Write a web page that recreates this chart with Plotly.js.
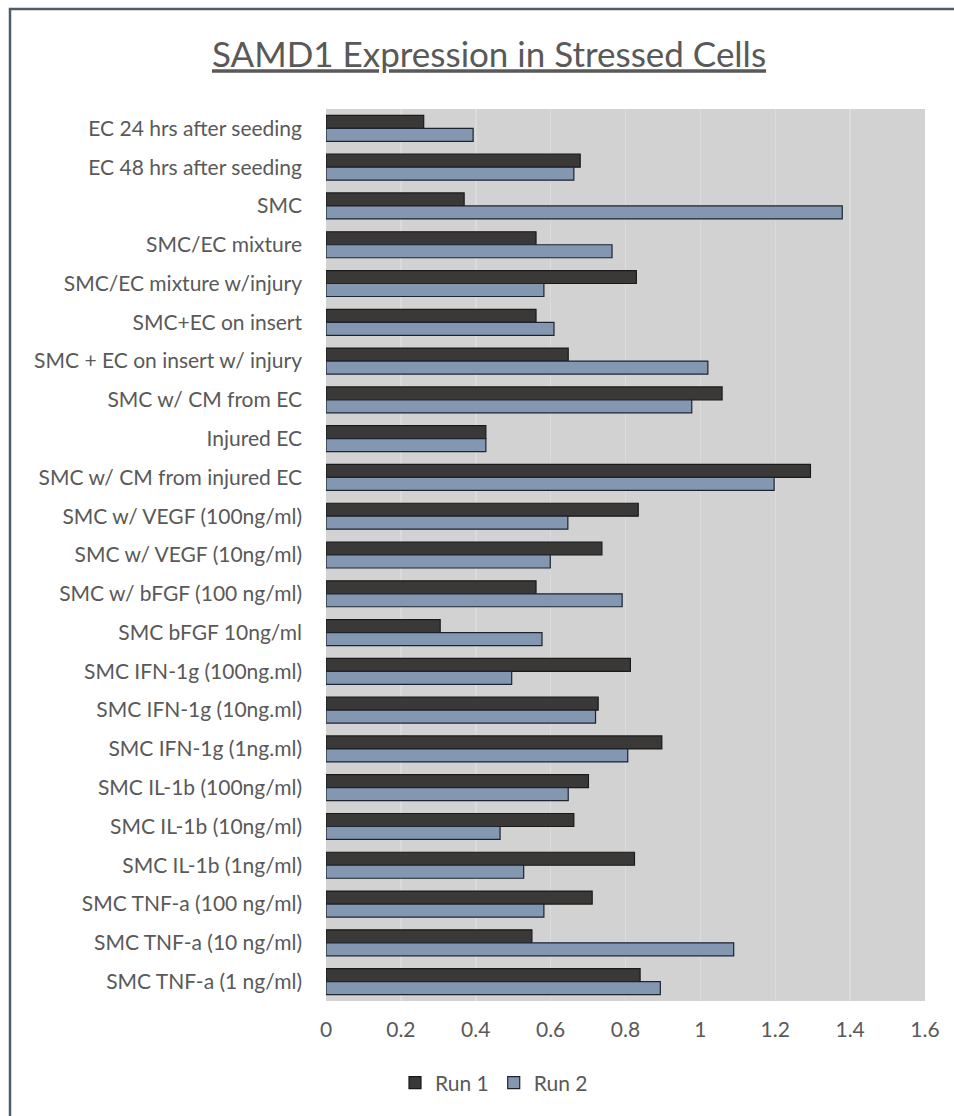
<!DOCTYPE html>
<html>
<head>
<meta charset="utf-8">
<script src="https://cdn.plot.ly/plotly-3.0.1.min.js"></script>
<style>html,body{margin:0;padding:0;background:#fff;}#chart{width:954px;height:1116px;}</style>
</head>
<body>
<div id="chart"></div>
<script>
const categories = [
  "EC 24 hrs after seeding",
  "EC 48 hrs after seeding",
  "SMC",
  "SMC/EC mixture",
  "SMC/EC mixture w/injury",
  "SMC+EC on insert",
  "SMC + EC on insert w/ injury",
  "SMC w/ CM from EC",
  "Injured EC",
  "SMC w/ CM from injured EC",
  "SMC w/ VEGF (100ng/ml)",
  "SMC w/ VEGF (10ng/ml)",
  "SMC w/ bFGF (100 ng/ml)",
  "SMC bFGF 10ng/ml",
  "SMC IFN-1g (100ng.ml)",
  "SMC IFN-1g (10ng.ml)",
  "SMC IFN-1g (1ng.ml)",
  "SMC IL-1b (100ng/ml)",
  "SMC IL-1b (10ng/ml)",
  "SMC IL-1b (1ng/ml)",
  "SMC TNF-a (100 ng/ml)",
  "SMC TNF-a (10 ng/ml)",
  "SMC TNF-a (1 ng/ml)"
];
const run1 = [0.261, 0.679, 0.369, 0.561, 0.829, 0.561, 0.647, 1.058, 0.427, 1.294, 0.834, 0.737, 0.561, 0.305, 0.813, 0.727, 0.897, 0.701, 0.662, 0.824, 0.711, 0.550, 0.839];
const run2 = [0.393, 0.662, 1.379, 0.764, 0.582, 0.609, 1.020, 0.977, 0.427, 1.197, 0.646, 0.599, 0.791, 0.577, 0.496, 0.720, 0.806, 0.647, 0.465, 0.528, 0.582, 1.089, 0.893];
const xTicks = [0, 0.2, 0.4, 0.6, 0.8, 1, 1.2, 1.4, 1.6];
const seriesNames = ["Run 1", "Run 2"];

const W = 954, H = 1116;
const L = 326, R = 925, T = 109, B = 1001;
const px = x => (x - L) / (R - L);
const py = y => (B - y) / (B - T);

const font = "Lato, 'Open Sans', sans-serif";
const grey = "#595959";

const data = [
  {type: "bar", orientation: "h", name: seriesNames[0], x: run1, y: categories,
   marker: {color: "#3b3838", line: {color: "#1a1a1a", width: 1.2}}},
  {type: "bar", orientation: "h", name: seriesNames[1], x: run2, y: categories,
   marker: {color: "#8497b0", line: {color: "#1c2430", width: 1.2}}}
];

const layout = {
  width: W, height: H,
  margin: {l: L, r: W - R, t: T, b: H - B, pad: 0},
  paper_bgcolor: "#ffffff",
  plot_bgcolor: "#d3d2d2",
  barmode: "group",
  bargap: 0.33,
  bargroupgap: 0,
  font: {family: font, color: grey, size: 21},
  title: {
    text: "SAMD1 Expression in Stressed Cells",
    font: {family: font, size: 35, color: grey, lineposition: "under"},
    x: 489 / W, xref: "container", xanchor: "center",
    y: 1 - 55 / H, yref: "container", yanchor: "middle"
  },
  xaxis: {
    range: [0, 1.6], tickvals: xTicks, ticktext: xTicks.map(String),
    showgrid: true, gridcolor: "#dcdbdb", gridwidth: 1.5,
    zeroline: false, showline: false, ticks: "",
    ticklabelstandoff: 14,
    tickfont: {family: font, size: 21, color: grey},
    fixedrange: true
  },
  yaxis: {
    type: "category", autorange: "reversed",
    showgrid: false, zeroline: false, showline: false, ticks: "",
    ticklabelstandoff: 23,
    tickfont: {family: font, size: 21, color: grey},
    fixedrange: true
  },
  legend: {
    orientation: "h", x: px(494), xanchor: "center", y: py(1083), yanchor: "middle",
    font: {family: font, size: 21, color: grey}, traceorder: "normal",
    itemwidth: 30, bgcolor: "rgba(0,0,0,0)"
  },
  shapes: [
    {type: "rect", xref: "paper", yref: "paper",
     x0: px(10), x1: px(975), y0: py(1140), y1: py(9),
     line: {color: "#4f5d68", width: 2.5}, fillcolor: "rgba(0,0,0,0)", layer: "below"}
  ],
  showlegend: true
};

Plotly.newPlot("chart", data, layout, {displayModeBar: false, staticPlot: true});
</script>
</body>
</html>
